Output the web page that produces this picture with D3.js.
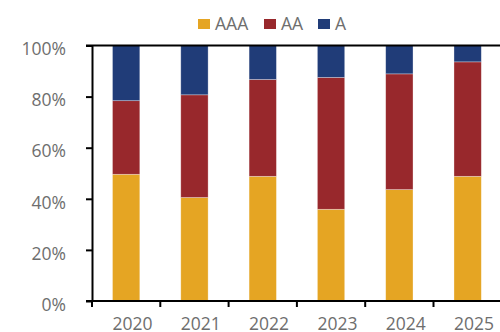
<!DOCTYPE html>
<html>
<head>
<meta charset="utf-8">
<script src="https://cdn.jsdelivr.net/npm/d3@7"></script>
<style>
  html, body { margin: 0; padding: 0; background: #fff; }
  svg { display: block; }
  text { font-family: "Open Sans", "Noto Sans", sans-serif; fill: #6e6e6e; }
</style>
</head>
<body>
<svg id="chart" width="500" height="332"></svg>
<script>
// Rating mix by year (share of total, %)
const years = ["2020", "2021", "2022", "2023", "2024", "2025"];
const aaa = [49.6, 40.5, 48.8, 35.9, 43.6, 48.8];
const aa  = [28.8, 40.2, 37.9, 51.6, 45.3, 44.8];
const a   = [21.6, 19.3, 13.3, 12.5, 11.1, 6.4];
const seriesNames = ["AAA", "AA", "A"];
const seriesColors = ["#E5A523", "#98282C", "#203C78"];
const yTicks = [0, 20, 40, 60, 80, 100];

const rows = years.map((yr, i) => ({ year: yr, AAA: aaa[i], AA: aa[i], A: a[i] }));
const stacked = d3.stack().keys(seriesNames)(rows);

const svg = d3.select("#chart");
const plotLeft = 92, plotTop = 45.5, plotBottom = 301, step = 68.3;

const x = d3.scaleBand().domain(years).range([plotLeft, plotLeft + step * years.length]).padding(0);
const y = d3.scaleLinear().domain([0, 100]).range([plotBottom, plotTop]);
const color = d3.scaleOrdinal().domain(seriesNames).range(seriesColors);

// Stacked bars
svg.append("g").selectAll("g")
  .data(stacked)
  .join("g")
  .attr("fill", d => color(d.key))
  .selectAll("rect")
  .data(d => d)
  .join("rect")
  .attr("x", d => x(d.data.year) + x.bandwidth() * 0.3)
  .attr("width", x.bandwidth() * 0.4)
  .attr("y", d => y(d[1]))
  .attr("height", d => y(d[0]) - y(d[1]))
  .attr("stroke", "rgba(255,255,255,0.45)")
  .attr("stroke-width", 0.7);

// Y axis
const yAxis = d3.axisLeft(y)
  .tickValues(yTicks)
  .tickSize(6)
  .tickSizeOuter(0)
  .tickFormat(d => d + "%");
const gy = svg.append("g").attr("transform", `translate(${plotLeft},0)`).call(yAxis);
gy.select(".domain").attr("stroke", "#000").attr("stroke-width", 2);
gy.selectAll(".tick line").attr("stroke", "#000").attr("stroke-width", 2);
gy.selectAll(".tick text")
  .attr("x", -26)
  .attr("dy", "0.53em")
  .style("font-size", "17.5px")
  .attr("fill", "#6e6e6e");

// Top border and baseline
svg.append("line")
  .attr("x1", plotLeft - 6).attr("x2", 500)
  .attr("y1", y(100)).attr("y2", y(100))
  .attr("stroke", "#000").attr("stroke-width", 2);
svg.append("line")
  .attr("x1", plotLeft - 6).attr("x2", 500)
  .attr("y1", y(0)).attr("y2", y(0))
  .attr("stroke", "#000").attr("stroke-width", 2);

// X ticks at category boundaries
const boundaries = years.map(d => x(d)).concat([x.range()[1]]);
svg.append("g").selectAll("line")
  .data(boundaries)
  .join("line")
  .attr("x1", d => d).attr("x2", d => d)
  .attr("y1", plotBottom).attr("y2", plotBottom + 6)
  .attr("stroke", "#000").attr("stroke-width", 2);

// X labels
svg.append("g").selectAll("text")
  .data(years)
  .join("text")
  .attr("x", d => x(d) + x.bandwidth() * 0.3)
  .attr("y", 330)
  .style("font-size", "17.5px")
  .text(d => d);

// Legend
const legendX = [198, 264, 318];
const lg = svg.append("g").selectAll("g")
  .data(seriesNames)
  .join("g")
  .attr("transform", (d, i) => `translate(${legendX[i]},19)`);
lg.append("rect").attr("width", 12).attr("height", 10).attr("fill", d => color(d));
lg.append("text").attr("x", 17).attr("y", 11).style("font-size", "17.5px").text(d => d);
</script>
</body>
</html>
